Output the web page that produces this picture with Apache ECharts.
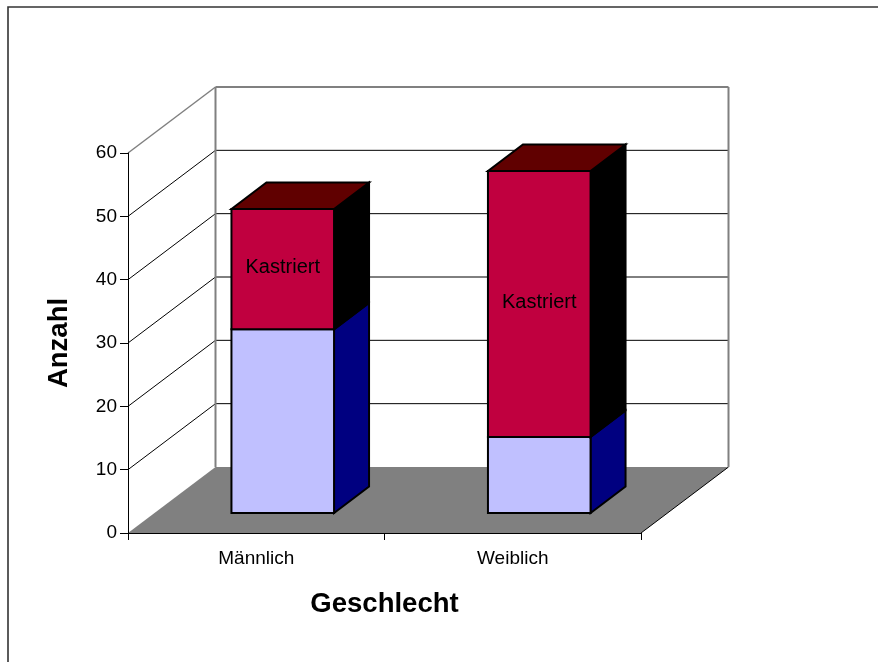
<!DOCTYPE html>
<html>
<head>
<meta charset="utf-8">
<title>Anzahl nach Geschlecht</title>
<script src="https://cdn.jsdelivr.net/npm/echarts@6/dist/echarts.min.js"></script>
<style>
  html, body { margin: 0; padding: 0; background: #fff; }
  #chart { width: 878px; height: 662px; }
</style>
</head>
<body>
<div id="chart"></div>
<script>
const categories = ["Männlich", "Weiblich"];
const nichtKastriert = [29, 12];
const kastriert = [19, 42];
const tickValues = [0, 10, 20, 30, 40, 50, 60];

const FONT = "Liberation Sans";
// pseudo-3d offsets in pixels
const WALL_DX = 87.5;
const WALL_DY = 66;
const BAR_SHIFT_X = 26.5;
const BAR_SHIFT_Y = 20;
const BAR_DX = 35;
const BAR_DY = 26.5;

const chart = echarts.init(document.getElementById("chart"), null, { renderer: "canvas" });

const line = (x1, y1, x2, y2, color, width) => ({
  type: "line",
  shape: { x1, y1, x2, y2 },
  style: { stroke: color, lineWidth: width },
  silent: true,
});

const poly = (points, fill) => ({
  type: "polygon",
  shape: { points },
  style: { fill, stroke: "#000", lineWidth: 2, lineJoin: "miter" },
  silent: true,
});

const renderWall = (params, api) => {
  const v = api.value(0);
  const band = api.size([1, 0])[0];
  const left = api.coord([0, v])[0] - band / 2;
  const right = left + band * categories.length;
  const y = api.coord([0, v])[1];
  const children = [];

  if (v === 0) {
    children.push({
      type: "polygon",
      shape: {
        points: [
          [left, y],
          [left + WALL_DX, y - WALL_DY],
          [right + WALL_DX, y - WALL_DY],
          [right, y],
        ],
      },
      style: { fill: "#808080" },
      silent: true,
    });
    children.push(line(right, y, right + WALL_DX, y - WALL_DY, "#000", 1));
  } else if (v === 60) {
    const floorY = api.coord([0, 0])[1] - WALL_DY;
    children.push(line(left, y, left + WALL_DX, y - WALL_DY, "#808080", 1.5));
    children.push(line(left + WALL_DX, y - WALL_DY, right + WALL_DX, y - WALL_DY, "#808080", 2));
    children.push(line(left + WALL_DX, y - WALL_DY, left + WALL_DX, floorY, "#808080", 2));
    children.push(line(right + WALL_DX, y - WALL_DY, right + WALL_DX, floorY, "#808080", 2));
  } else {
    children.push(line(left, y, left + WALL_DX, y - WALL_DY, "#000", 1));
    children.push(line(left + WALL_DX, y - WALL_DY, right + WALL_DX, y - WALL_DY, "#000", 1));
  }
  return { type: "group", children };
};

const renderBar = (colors, labelText) => (params, api) => {
  const idx = api.value(0);
  const base = api.coord([idx, api.value(1)]);
  const top = api.coord([idx, api.value(2)]);
  const halfW = api.size([1, 0])[0] * 0.2;
  const x1 = base[0] - halfW + BAR_SHIFT_X;
  const x2 = base[0] + halfW + BAR_SHIFT_X;
  const y1 = top[1] - BAR_SHIFT_Y;
  const y2 = base[1] - BAR_SHIFT_Y;
  const children = [
    poly([[x2, y1], [x2 + BAR_DX, y1 - BAR_DY], [x2 + BAR_DX, y2 - BAR_DY], [x2, y2]], colors.side),
    poly([[x1, y1], [x2, y1], [x2, y2], [x1, y2]], colors.front),
  ];
  if (colors.top) {
    children.push(poly([[x1, y1], [x1 + BAR_DX, y1 - BAR_DY], [x2 + BAR_DX, y1 - BAR_DY], [x2, y1]], colors.top));
  }
  if (labelText) {
    children.push({
      type: "text",
      style: {
        x: (x1 + x2) / 2,
        y: (y1 + y2) / 2 - 2,
        text: labelText,
        fill: "#000",
        font: "20px " + FONT,
        align: "center",
        verticalAlign: "middle",
      },
      silent: true,
    });
  }
  return { type: "group", children };
};

const lowerData = categories.map((c, i) => [i, 0, nichtKastriert[i]]);
const upperData = categories.map((c, i) => [i, nichtKastriert[i], nichtKastriert[i] + kastriert[i]]);

chart.setOption({
  animation: false,
  backgroundColor: "#fff",
  graphic: [
    {
      type: "polyline",
      shape: { points: [[8, 662], [8, 7], [878, 7]] },
      style: { stroke: "#333", lineWidth: 1.6, fill: null },
      silent: true,
    },
  ],
  grid: { left: 128, top: 153, width: 513, height: 380 },
  xAxis: {
    type: "category",
    data: categories,
    z: 10,
    axisLine: { lineStyle: { color: "#000", width: 1 } },
    axisTick: { show: true, alignWithLabel: false, length: 7, lineStyle: { color: "#000", width: 1 } },
    axisLabel: { color: "#000", fontFamily: FONT, fontSize: 19, margin: 16 },
    name: "Geschlecht",
    nameLocation: "middle",
    nameGap: 57,
    nameTextStyle: { color: "#000", fontFamily: FONT, fontSize: 27.5, fontWeight: "bold" },
  },
  yAxis: {
    type: "value",
    min: 0,
    max: 60,
    interval: 10,
    z: 10,
    splitLine: { show: false },
    axisLine: { show: true, lineStyle: { color: "#000", width: 1 } },
    axisTick: { show: true, length: 8, lineStyle: { color: "#000" } },
    axisLabel: { color: "#000", fontFamily: FONT, fontSize: 19, margin: 11 },
    name: "Anzahl",
    nameLocation: "middle",
    nameGap: 55,
    nameTextStyle: { color: "#000", fontFamily: FONT, fontSize: 27.5, fontWeight: "bold" },
  },
  series: [
    {
      type: "custom",
      name: "Wand",
      coordinateSystem: "cartesian2d",
      z: 1,
      silent: true,
      renderItem: renderWall,
      encode: { y: 0 },
      data: tickValues.map((v) => [v]),
    },
    {
      type: "custom",
      name: "Nicht kastriert",
      coordinateSystem: "cartesian2d",
      z: 2,
      silent: true,
      renderItem: renderBar({ front: "#C0C0FF", side: "#000080" }),
      encode: { x: 0, y: 2 },
      data: lowerData,
    },
    {
      type: "custom",
      name: "Kastriert",
      coordinateSystem: "cartesian2d",
      z: 3,
      silent: true,
      renderItem: renderBar({ front: "#C0003F", side: "#000000", top: "#600000" }, "Kastriert"),
      encode: { x: 0, y: 2 },
      data: upperData,
    },
  ],
});
</script>
</body>
</html>
